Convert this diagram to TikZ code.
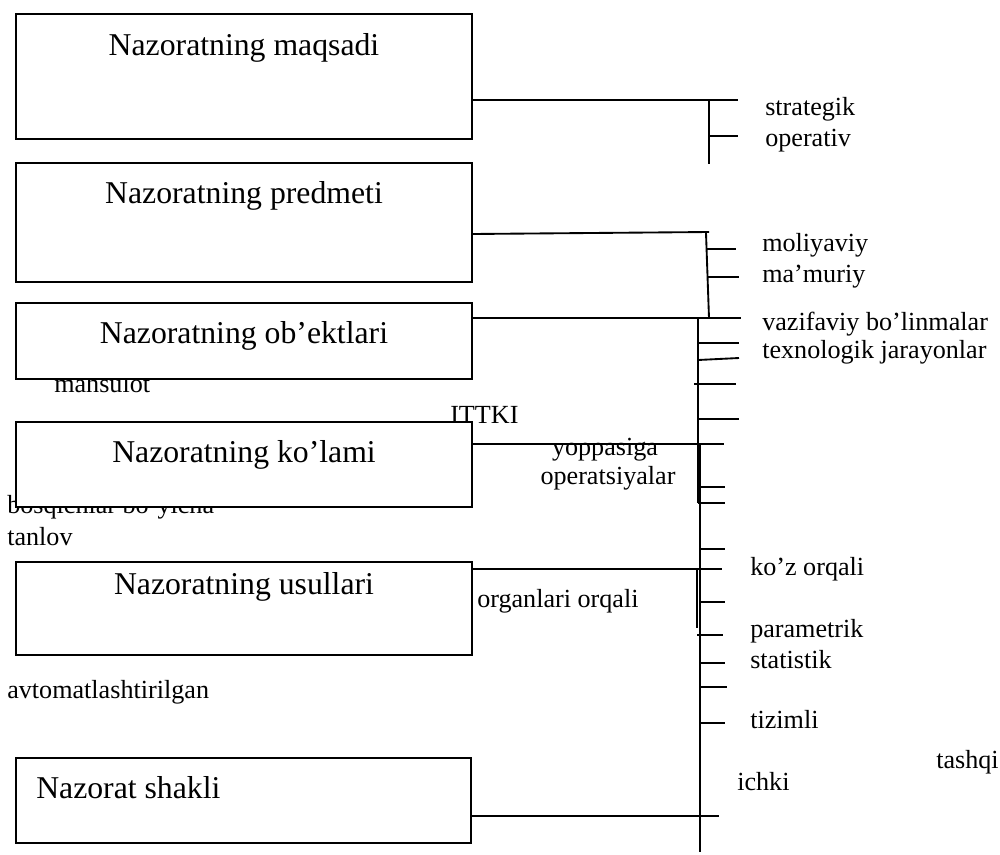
\documentclass[tikz,border=0pt]{standalone}
\usepackage{fontspec}
\setmainfont{Liberation Serif}
\begin{document}
\begin{tikzpicture}[x=0.75pt,y=-0.75pt,
  box/.style={draw,line width=1.4pt,fill=white,inner sep=0pt},
  big/.style={font=\fontsize{23.8}{28}\selectfont,inner sep=0pt},
  small/.style={font=\fontsize{19.6}{23}\selectfont,inner sep=0pt,anchor=base west},
  conn/.style={line width=1.4pt}]
\useasboundingbox (0,0) rectangle (1000,854);
% texts partly hidden behind boxes
\node[small] (t_mah) at (54,392) {mahsulot};
\node[small] (t_bos) at (7,513) {bosqichlar bo’yicha};
\node[small] (t_tan) at (7,545) {tanlov};
\node[small] (t_avt) at (7,698) {avtomatlashtirilgan};
% boxes
\node[box,minimum width=342pt,minimum height=93.75pt] (b1) at (244,76.5) {};
\node[box,minimum width=342pt,minimum height=89.25pt] (b2) at (244,222.5) {};
\node[box,minimum width=342pt,minimum height=57pt] (b3) at (244,341) {};
\node[box,minimum width=342pt,minimum height=63.75pt] (b4) at (244,464.5) {};
\node[box,minimum width=342pt,minimum height=69.75pt] (b5) at (244,608.5) {};
\node[box,minimum width=341.25pt,minimum height=63.75pt] (b6) at (243.5,800.5) {};
% box titles
\node[big,anchor=base] (h1) at (244,55) {Nazoratning maqsadi};
\node[big,anchor=base] (h2) at (244,203) {Nazoratning predmeti};
\node[big,anchor=base] (h3) at (244,343) {Nazoratning ob’ektlari};
\node[big,anchor=base] (h4) at (244,462) {Nazoratning ko’lami};
\node[big,anchor=base] (h5) at (244,594) {Nazoratning usullari};
\node[big,anchor=base west] (h6) at (36,798) {Nazorat shakli};
% junction coordinates
\coordinate (j1) at (738,100);
\coordinate (j2) at (709,232);
\coordinate (j3) at (741,318);
\coordinate (j4) at (724,444);
\coordinate (j5) at (722,569);
\coordinate (j6) at (719,816);
% connectors from boxes
\draw[conn] (b1.east |- j1) -- (j1);
\draw[conn] (472,234) -- (j2);
\draw[conn] (b3.east |- j3) -- (j3);
\draw[conn] (b4.east |- j4) -- (j4);
\draw[conn] (b5.east |- j5) -- (j5);
\draw[conn] (b6.east |- j6) -- (j6);
% verticals
\draw[conn] (709,100) -- (709,164);
\draw[conn] (706,233) -- (709,318);
\draw[conn] (698,318) -- (698,503);
\draw[conn] (700,444) -- (700,852);
\draw[conn] (697,569) -- (697,628);
% ticks
\draw[conn] (709,136) -- (738,136);
\draw[conn] (706,249) -- (736,249);
\draw[conn] (708,277) -- (739,277);
\draw[conn] (698,343) -- (739,343);
\draw[conn] (698,360) -- (739,358);
\draw[conn] (694,384) -- (736,384);
\draw[conn] (698,419) -- (739,419);
\draw[conn] (698,487) -- (725,487);
\draw[conn] (698,503) -- (725,503);
\draw[conn] (700,549) -- (725,549);
\draw[conn] (700,602) -- (725,602);
\draw[conn] (697,635) -- (723,635);
\draw[conn] (699,663) -- (725,663);
\draw[conn] (699,687) -- (727,687);
\draw[conn] (699,723) -- (725,723);
% labels
\node[small] (l_str) at (765,115) {strategik};
\node[small] (l_ope) at (765,146) {operativ};
\node[small] (l_mol) at (762,251) {moliyaviy};
\node[small] (l_mam) at (762,282) {ma’muriy};
\node[small] (l_vaz) at (762,330) {vazifaviy bo’linmalar};
\node[small] (l_tex) at (762,358) {texnologik jarayonlar};
\node[small] (l_itt) at (450,423) {ITTKI};
\node[small,anchor=base] (l_yop) at (605,455) {yoppasiga};
\node[small,anchor=base] (l_opr) at (608,484) {operatsiyalar};
\node[small] (l_koz) at (750,575) {ko’z orqali};
\node[small] (l_org) at (477,607) {organlari orqali};
\node[small] (l_par) at (750,637) {parametrik};
\node[small] (l_sta) at (750,668) {statistik};
\node[small] (l_tiz) at (750,728) {tizimli};
\node[small] (l_tas) at (936,768) {tashqi};
\node[small] (l_ich) at (737,790) {ichki};
\end{tikzpicture}
\end{document}
